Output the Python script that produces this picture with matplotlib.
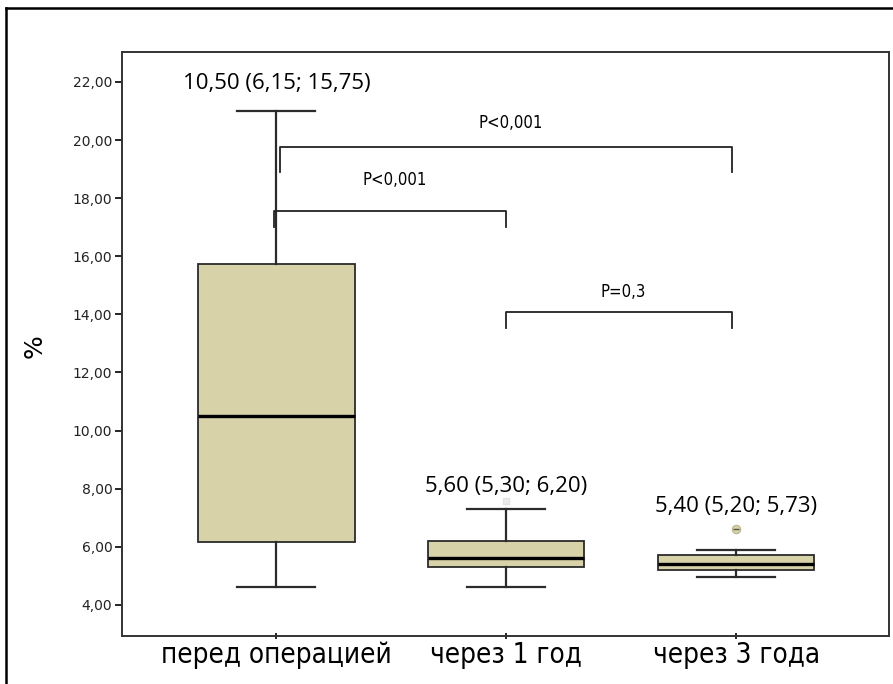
import matplotlib
matplotlib.use("Agg")
import matplotlib.pyplot as plt
from matplotlib.lines import Line2D
from matplotlib import font_manager

# --- data -------------------------------------------------------------
categories = ["перед операцией", "через 1 год", "через 3 года"]
medians = [10.50, 5.60, 5.40]
q1 = [6.15, 5.30, 5.20]
q3 = [15.75, 6.20, 5.73]
whisker_low = [4.6, 4.6, 4.97]
whisker_high = [21.0, 7.3, 5.9]
outliers = [[], [7.58], [6.62]]
box_labels = ["10,50 (6,15; 15,75)", "5,60 (5,30; 6,20)", "5,40 (5,20; 5,73)"]

# comparisons: (group a, group b, bracket level, text)
comparisons = [(0, 2, 19.76, "P<0,001"),
               (0, 1, 17.56, "P<0,001"),
               (1, 2, 14.08, "P=0,3")]

yticks = [4, 6, 8, 10, 12, 14, 16, 18, 20, 22]
ytick_labels = ["4,00", "6,00", "8,00", "10,00", "12,00", "14,00",
                "16,00", "18,00", "20,00", "22,00"]

# --- fonts ------------------------------------------------------------
def dejavu_file(tag):
    for f in font_manager.fontManager.ttflist:
        base = f.fname.rsplit("/", 1)[-1]
        if base == tag:
            return f.fname
    return None

cond_path = dejavu_file("DejaVuSansCondensed.ttf")
reg_path = dejavu_file("DejaVuSans.ttf")
narrow_fp = (font_manager.FontProperties(fname=cond_path) if cond_path
             else font_manager.FontProperties(family="DejaVu Sans", stretch="condensed"))
regular_fp = (font_manager.FontProperties(fname=reg_path) if reg_path
              else font_manager.FontProperties(family="DejaVu Sans"))
label_font = "Open Sans"

W, H = 893, 684
fig = plt.figure(figsize=(W / 100, H / 100), dpi=100)
fig.patch.set_facecolor("white")

# outer frame (open at right and bottom)
fig.lines.append(Line2D([6 / W, 1.0], [1 - 8 / H, 1 - 8 / H],
                        transform=fig.transFigure, color="black", lw=1.8))
fig.lines.append(Line2D([6 / W, 6 / W], [0, 1 - 8 / H],
                        transform=fig.transFigure, color="black", lw=1.8))

ax = fig.add_axes([122 / W, 1 - 636 / H, (889 - 122) / W, (636 - 52) / H])

stats = []
for i in range(len(categories)):
    stats.append(dict(med=medians[i], q1=q1[i], q3=q3[i],
                      whislo=whisker_low[i], whishi=whisker_high[i],
                      fliers=[], label=categories[i]))

positions = list(range(len(categories)))
edge = "#2b2b2b"
ax.bxp(stats, positions=positions, widths=0.68, capwidths=0.34,
       patch_artist=True, showfliers=False,
       boxprops=dict(facecolor="#d7d2a7", edgecolor=edge, linewidth=1.3),
       medianprops=dict(color="black", linewidth=2.4),
       whiskerprops=dict(color=edge, linewidth=1.6),
       capprops=dict(color=edge, linewidth=1.6))

# outliers
ax.plot([1] * len(outliers[1]), outliers[1], marker="s", ls="none",
        ms=5, mfc="#ececec", mec="#e4e4e4")
ax.plot([2] * len(outliers[2]), outliers[2], marker="o", ls="none",
        ms=6, mfc="#d7d2a7", mec="#b9b48c", mew=0.8)
ax.plot([2] * len(outliers[2]), outliers[2], marker="_", ls="none",
        ms=5, mec="#555555", mew=1.0)

# summary labels above each box
label_y = [21.93, 8.06, 7.40]
for i, txt in enumerate(box_labels):
    ax.text(positions[i], label_y[i], txt, ha="center", va="center",
            fontsize=16, family=label_font, color="black")

# significance brackets
drop = [0.86, 0.56, 0.55]
text_y = [20.6, 18.62, 14.77]
for (a, b, level, txt), d, ty in zip(comparisons, drop, text_y):
    xa = a + (0.015 if a == 0 and b == 2 else -0.011 if a == 0 else -0.003)
    xb = b - 0.02 if b == 2 else b
    ax.plot([xa, xa, xb, xb], [level - d, level, level, level - d],
            color="#222222", lw=1.3, solid_joinstyle="round")
    ax.text((xa + xb) / 2 + 0.02, ty, txt, ha="center", va="center",
            fontproperties=narrow_fp, fontsize=12, color="black")

ax.set_xlim(-0.671, 2.664)
ax.set_ylim(2.93, 23.03)
ax.set_yticks(yticks)
ax.set_yticklabels(ytick_labels, fontproperties=regular_fp, fontsize=10, color="#222222")
ax.set_xticks(positions)
ax.set_xticklabels(categories, fontproperties=narrow_fp, fontsize=20, color="black")
ax.tick_params(axis="y", length=5, width=1.2, pad=2)
ax.tick_params(axis="x", length=5, width=1.2, pad=1, direction="inout")
for s in ax.spines.values():
    s.set_linewidth(1.4)
    s.set_color("#333333")

fig.text(35 / W, 1 - 346 / H, "%", rotation=90, ha="center", va="center",
         fontproperties=regular_fp, fontsize=18, color="black")

fig.savefig("out.png", dpi=100, facecolor="white")
